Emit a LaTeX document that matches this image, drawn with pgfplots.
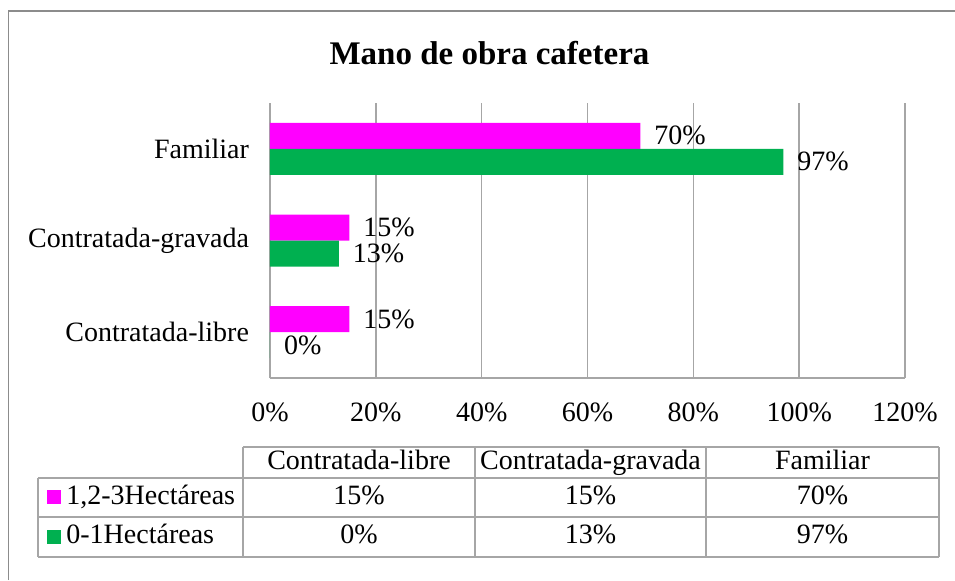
\documentclass[border=0pt]{standalone}
\usepackage{fontspec}
\setmainfont{Liberation Serif}
\usepackage{pgfplots}
\pgfplotsset{compat=1.18}
\definecolor{barMag}{HTML}{FF00FF}
\definecolor{barGreen}{HTML}{00B050}
\definecolor{gridgray}{HTML}{A6A6A6}
\definecolor{framegray}{HTML}{8C8C8C}
\newcommand{\lbl}{\fontsize{14}{16}\selectfont}

\begin{document}
% 1 unit = 1 pixel of the reference (0.5pt), y counted from the bottom
\begin{tikzpicture}[x=0.5pt,y=0.5pt,
    cell/.style={font=\lbl,text height=9.5pt,text depth=3pt,inner sep=0pt}]
\useasboundingbox (0,0) rectangle (955,580);

% outer frame (runs off the right and bottom edges)
\draw[framegray,line width=0.75pt] (8.5,0) -- (8.5,569) -- (960,569);

% title
\node[font=\fontsize{16.5}{19}\selectfont\bfseries] at (489.5,{580-53}) {Mano de obra cafetera};

\begin{axis}[
    at={(135pt,101pt)}, anchor=south west,
    scale only axis, width=317.5pt, height=137.5pt,
    xbar, bar width=13pt,
    xmin=0, xmax=120, ymin=-0.5, ymax=2.5,
    xtick={0,20,...,120},
    xticklabels={0\%,20\%,40\%,60\%,80\%,100\%,120\%},
    ytick={0,1,2},
    yticklabels={Contratada-libre,Contratada-gravada,Familiar},
    xmajorgrids, grid style={gridgray,line width=0.75pt},
    axis x line*=bottom, axis y line*=left,
    axis line style={draw=gridgray,line width=0.75pt,-},
    major tick length=0pt,
    xticklabel style={font=\lbl,anchor=center,yshift=-17pt},
    yticklabel style={font=\lbl,xshift=-7pt},
    nodes near coords, point meta=explicit symbolic,
    every node near coord/.append style={font=\lbl,anchor=west,xshift=3.5pt,text=black},
]
\addplot[fill=barMag,draw=none,bar shift=6.5pt]
  coordinates {(15,0) [15\%] (15,1) [15\%] (70,2) [70\%]};
\addplot[fill=barGreen,draw=none,bar shift=-6.5pt]
  coordinates {(0,0) [0\%] (13,1) [13\%] (97,2) [97\%]};
\end{axis}

% data table
\begin{scope}[gridgray,line width=0.75pt]
\draw (243,{580-447}) -- (939,{580-447});
\foreach \yy in {478,517,557} \draw (38,{580-\yy}) -- (939,{580-\yy});
\draw (38,{580-478}) -- (38,{580-557});
\foreach \xx in {243,475,706,939} \draw (\xx,{580-447}) -- (\xx,{580-557});
\end{scope}
\node[cell] at (359,{580-462.5}) {Contratada-libre};
\node[cell] at (590.5,{580-462.5}) {Contratada-gravada};
\node[cell] at (822.5,{580-462.5}) {Familiar};
\fill[barMag] (47,{580-504}) rectangle (61,{580-490});
\node[cell,anchor=west] at (66,{580-497.5}) {1,2-3Hectáreas};
\fill[barGreen] (47,{580-544}) rectangle (61,{580-530});
\node[cell,anchor=west] at (66,{580-537}) {0-1Hectáreas};
\node[cell] at (359,{580-497.5}) {15\%};
\node[cell] at (590.5,{580-497.5}) {15\%};
\node[cell] at (822.5,{580-497.5}) {70\%};
\node[cell] at (359,{580-537}) {0\%};
\node[cell] at (590.5,{580-537}) {13\%};
\node[cell] at (822.5,{580-537}) {97\%};
\end{tikzpicture}
\end{document}
